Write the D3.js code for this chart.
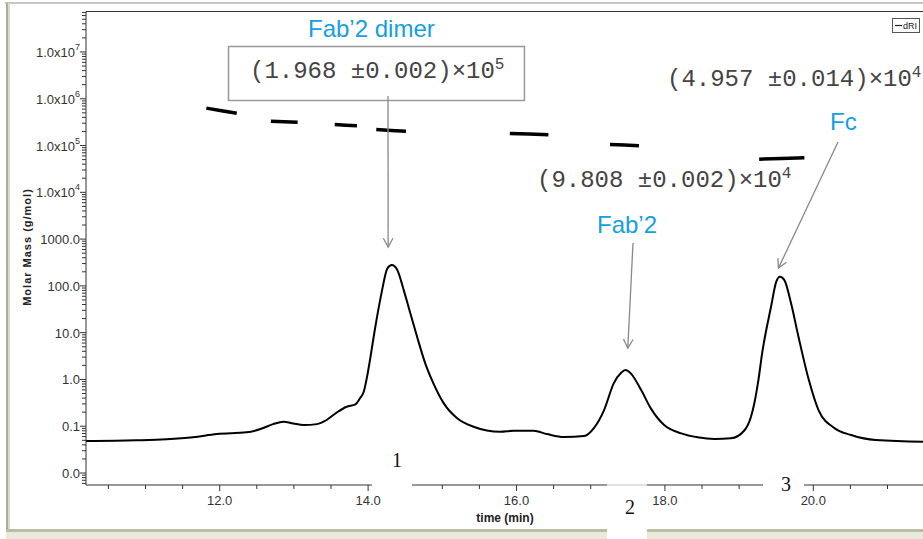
<!DOCTYPE html>
<html>
<head>
<meta charset="utf-8">
<script src="https://cdn.jsdelivr.net/npm/d3@7"></script>
<style>
  body { margin: 0; background: #fff; overflow: hidden; }
</style>
</head>
<body>
<div id="vis"></div>
<script>
// dRI trace (time in min, value on the molar mass log axis)
const riTime = [10.20, 10.87, 11.28, 11.64, 11.96, 12.36, 12.54, 12.72, 12.86, 12.99, 13.13, 13.31, 13.44, 13.58,
  13.71, 13.83, 13.89, 13.94, 13.99, 14.03, 14.09, 14.18, 14.26, 14.32, 14.39, 14.48, 14.57, 14.66, 14.77, 14.88,
  15.02, 15.20, 15.42, 15.78, 15.96, 16.23, 16.41, 16.64, 16.91, 17.04, 17.18, 17.31, 17.41, 17.47, 17.54, 17.68,
  17.81, 17.99, 18.22, 18.44, 18.67, 18.89, 19.07, 19.16, 19.20, 19.26, 19.31, 19.43, 19.50, 19.55, 19.61, 19.70,
  19.80, 19.94, 20.07, 20.29, 20.51, 20.84, 21.51, 21.66];
const riValue = [0.0483, 0.0500, 0.0525, 0.0579, 0.0681, 0.0741, 0.0859, 0.111, 0.125, 0.115, 0.106, 0.111, 0.136, 0.198,
  0.261, 0.294, 0.395, 0.538, 1.24, 2.9, 11.4, 69.2, 237, 278, 225, 81.3, 25.8, 8.17, 2.21, 0.826,
  0.308, 0.148, 0.0976, 0.0763, 0.0801, 0.0801, 0.0681, 0.0588, 0.0618, 0.0902, 0.222, 0.826, 1.39, 1.59, 1.35, 0.594,
  0.241, 0.106, 0.0705, 0.0579, 0.0532, 0.0551, 0.0810, 0.160, 0.284, 0.970, 3.61, 35.7, 122, 156, 133, 42.3,
  8.17, 0.970, 0.222, 0.0902, 0.0649, 0.0507, 0.0467, 0.0465];

// molar mass slices (g/mol) at start / end time of each short segment
const mmStart = [11.82, 12.69, 13.55, 14.11, 15.91, 17.26, 19.27];
const mmEnd = [12.23, 13.05, 13.85, 14.51, 16.43, 17.65, 19.88];
const mmFirst = [6.3e5, 3.32e5, 2.80e5, 2.19e5, 1.80e5, 1.05e5, 5.1e4];
const mmLast = [4.9e5, 3.16e5, 2.66e5, 2.03e5, 1.71e5, 9.95e4, 5.5e4];

const xTicks = [12, 14, 16, 18, 20];
const yDecades = [-2, -1, 0, 1, 2, 3, 4, 5, 6, 7];

// peak annotations
const peakNames = ["Fab’2 dimer", "Fab’2", "Fc"];
const peakTipTime = [14.27, 17.50, 19.53];
const peakTipValue = [676, 4.69, 240];
const massMantissa = ["1.968", "9.808", "4.957"];
const massError = ["0.002", "0.002", "0.014"];
const massExp = ["5", "4", "4"];
const peakNumbers = ["1", "2", "3"];

const W = 923, H = 539;
const plotLeft = 86, plotTop = 11.5, plotBottom = 485;
const tickFont = `"Liberation Sans Narrow", "Arial Narrow", "Liberation Sans", Arial, sans-serif`;
const sans = `"Liberation Sans", Arial, sans-serif`;
const mono = `"Courier New", "Liberation Mono", monospace`;
const cyan = "#14a0e0";

const svg = d3.select("#vis").append("svg")
  .attr("width", W).attr("height", H)
  .style("display", "block");

const x = d3.scaleLinear().domain([10.198, 21.64]).range([plotLeft, 935]);
const y = d3.scaleLog().domain([Math.pow(10, -2.256), Math.pow(10, 7.865)]).range([plotBottom, plotTop]);

// window frame
svg.append("rect").attr("x", 0).attr("y", 0).attr("width", W).attr("height", H).attr("fill", "#fff");
svg.append("line").attr("x1", 5).attr("x2", W).attr("y1", 3).attr("y2", 3).attr("stroke", "#8f8f8f").attr("stroke-width", 1);
svg.append("rect").attr("x", 6).attr("y", 3).attr("width", 2).attr("height", 527).attr("fill", "#a9ae95");
svg.append("rect").attr("x", 8).attr("y", 3).attr("width", 2).attr("height", 527).attr("fill", "#d9dccb");
svg.append("rect").attr("x", 6).attr("y", 529).attr("width", W).attr("height", 3).attr("fill", "#b8bda3");
svg.append("rect").attr("x", 6).attr("y", 532).attr("width", W).attr("height", 7).attr("fill", "#e9e9dd");

// plot border
svg.append("line").attr("x1", plotLeft).attr("x2", W).attr("y1", plotTop).attr("y2", plotTop).attr("stroke", "#333");

svg.append("clipPath").attr("id", "plot")
  .append("rect").attr("x", plotLeft).attr("y", plotTop).attr("width", W - plotLeft).attr("height", plotBottom - plotTop);

// y axis: log decades plus minor ticks
const yAxis = svg.append("g");
yAxis.append("line").attr("x1", plotLeft).attr("x2", plotLeft).attr("y1", plotTop).attr("y2", plotBottom).attr("stroke", "#333");
const minor = [];
for (let d = -3; d <= 7; d++) {
  for (let k = 2; k <= 9; k++) {
    const v = k * Math.pow(10, d);
    if (v > y.domain()[0] && v < y.domain()[1]) minor.push(v);
  }
}
yAxis.selectAll(".ymin").data(minor).enter().append("line")
  .attr("x1", plotLeft - 4).attr("x2", plotLeft)
  .attr("y1", d => y(d)).attr("y2", d => y(d))
  .attr("stroke", "#333");
yAxis.selectAll(".ymaj").data(yDecades).enter().append("line")
  .attr("x1", plotLeft - 6).attr("x2", plotLeft)
  .attr("y1", d => y(Math.pow(10, d))).attr("y2", d => y(Math.pow(10, d)))
  .attr("stroke", "#333");
const yLab = yAxis.selectAll(".ylab").data(yDecades).enter().append("text")
  .attr("x", 80).attr("y", d => y(Math.pow(10, d)) + 5)
  .attr("text-anchor", "end")
  .style("font-family", tickFont).style("font-size", "13px").attr("fill", "#333");
yLab.each(function (d) {
  const t = d3.select(this);
  if (d >= 4) {
    t.append("tspan").text("1.0x10");
    t.append("tspan").attr("dy", -7).style("font-size", "9px").text(d);
  } else {
    t.text(Math.pow(10, d).toFixed(1));
  }
});

svg.append("text")
  .attr("transform", "translate(31,247) rotate(-90)")
  .attr("text-anchor", "middle")
  .style("font-family", sans).style("font-size", "11px").style("font-weight", "bold")
  .style("letter-spacing", "1px").attr("fill", "#222")
  .text("Molar Mass (g/mol)");

// x axis
const xAxis = svg.append("g");
xAxis.append("line").attr("x1", plotLeft).attr("x2", W).attr("y1", plotBottom).attr("y2", plotBottom).attr("stroke", "#333");
const xMinor = d3.range(10.5, 21.6, 0.5);
xAxis.selectAll(".xmin").data(xMinor).enter().append("line")
  .attr("x1", d => x(d)).attr("x2", d => x(d))
  .attr("y1", plotBottom).attr("y2", d => xTicks.includes(d) ? plotBottom + 6 : plotBottom + 4)
  .attr("stroke", "#333");
xAxis.selectAll(".xlab").data(xTicks).enter().append("text")
  .attr("x", d => x(d)).attr("y", 505)
  .attr("text-anchor", "middle")
  .style("font-family", tickFont).style("font-size", "13px").attr("fill", "#333")
  .text(d => d.toFixed(1));
svg.append("text")
  .attr("x", 505).attr("y", 522).attr("text-anchor", "middle")
  .style("font-family", tickFont).style("font-size", "12px").style("font-weight", "bold").attr("fill", "#222")
  .text("time (min)");

// legend
svg.append("rect").attr("x", 892.5).attr("y", 18.5).attr("width", 27).attr("height", 14)
  .attr("fill", "#fff").attr("stroke", "#555");
svg.append("line").attr("x1", 895).attr("x2", 902).attr("y1", 25.5).attr("y2", 25.5).attr("stroke", "#222").attr("stroke-width", 1.2);
svg.append("text").attr("x", 903).attr("y", 29)
  .style("font-family", tickFont).style("font-size", "9px").attr("fill", "#222").text("dRI");

// dRI trace
const plot = svg.append("g").attr("clip-path", "url(#plot)");
const riLine = d3.line()
  .x((d, i) => x(riTime[i]))
  .y(d => y(d))
  .curve(d3.curveMonotoneX);
plot.append("path").datum(riValue)
  .attr("d", riLine)
  .attr("fill", "none").attr("stroke", "#000").attr("stroke-width", 2);

// molar mass segments
plot.selectAll(".mm").data(mmStart).enter().append("path")
  .attr("d", (d, i) => {
    const mid = (mmStart[i] + mmEnd[i]) / 2;
    return d3.line()([[x(mmStart[i]), y(mmFirst[i])], [x(mid), y(Math.sqrt(mmFirst[i] * mmLast[i]))], [x(mmEnd[i]), y(mmLast[i])]]);
  })
  .attr("fill", "none").attr("stroke", "#000").attr("stroke-width", 3.5);

// white cut-outs with peak numbers
const numBoxes = [[372, 445, 40, 47], [607, 484, 40, 55], [763, 472, 41, 24]];
const numPos = [[397, 467], [630, 514], [786, 491]];
svg.selectAll(".nb").data(numBoxes).enter().append("rect")
  .attr("x", d => d[0]).attr("y", d => d[1]).attr("width", d => d[2]).attr("height", d => d[3])
  .attr("fill", "#fff");
svg.append("line").attr("x1", 607).attr("x2", 647).attr("y1", plotBottom).attr("y2", plotBottom).attr("stroke", "#c4c4c4");
svg.selectAll(".nn").data(peakNumbers).enter().append("text")
  .attr("x", (d, i) => numPos[i][0]).attr("y", (d, i) => numPos[i][1])
  .attr("text-anchor", "middle")
  .style("font-family", `"Liberation Serif", "Times New Roman", serif`).style("font-size", "20px").attr("fill", "#111")
  .text(d => d);

// molar mass results
const massPos = [[250, 78], [537, 187], [667, 86]];
const massText = svg.selectAll(".mt").data(massMantissa).enter().append("text")
  .attr("class", "mt")
  .attr("x", (d, i) => massPos[i][0]).attr("y", (d, i) => massPos[i][1])
  .style("font-family", mono).style("font-size", "24px").attr("fill", "#444")
  .style("white-space", "pre");
massText.append("tspan").text((d, i) => "(" + d + " ±" + massError[i] + ")×10");
massText.append("tspan").attr("dy", -9).style("font-size", "16px").text((d, i) => massExp[i]);

// box around the dimer result
const bb = massText.nodes()[0].getBBox();
svg.insert("rect", ".mt")
  .attr("x", 228.5).attr("y", 46.5).attr("width", bb.x + bb.width + 20 - 228.5).attr("height", 54)
  .attr("fill", "none").attr("stroke", "#999").attr("stroke-width", 1.5);

// peak names
const namePos = [[308, 37], [597, 233], [830, 130]];
svg.selectAll(".pn").data(peakNames).enter().append("text")
  .attr("x", (d, i) => namePos[i][0]).attr("y", (d, i) => namePos[i][1])
  .style("font-family", sans).style("font-size", "24px").attr("fill", cyan)
  .text(d => d);

// arrows
const arrowStart = [[388, 96], [633, 243], [838, 142]];
const arrows = svg.append("g").attr("stroke", "#888").attr("stroke-width", 1.3).attr("fill", "none");
peakNames.forEach((n, i) => {
  const x0 = arrowStart[i][0], y0 = arrowStart[i][1];
  const x1 = x(peakTipTime[i]), y1 = y(peakTipValue[i]);
  arrows.append("line").attr("x1", x0).attr("y1", y0).attr("x2", x1).attr("y2", y1);
  const a = Math.atan2(y1 - y0, x1 - x0), len = 10, spread = 0.5;
  arrows.append("path").attr("d", d3.line()([
    [x1 - len * Math.cos(a - spread), y1 - len * Math.sin(a - spread)],
    [x1, y1],
    [x1 - len * Math.cos(a + spread), y1 - len * Math.sin(a + spread)]
  ]));
});
</script>
</body>
</html>
